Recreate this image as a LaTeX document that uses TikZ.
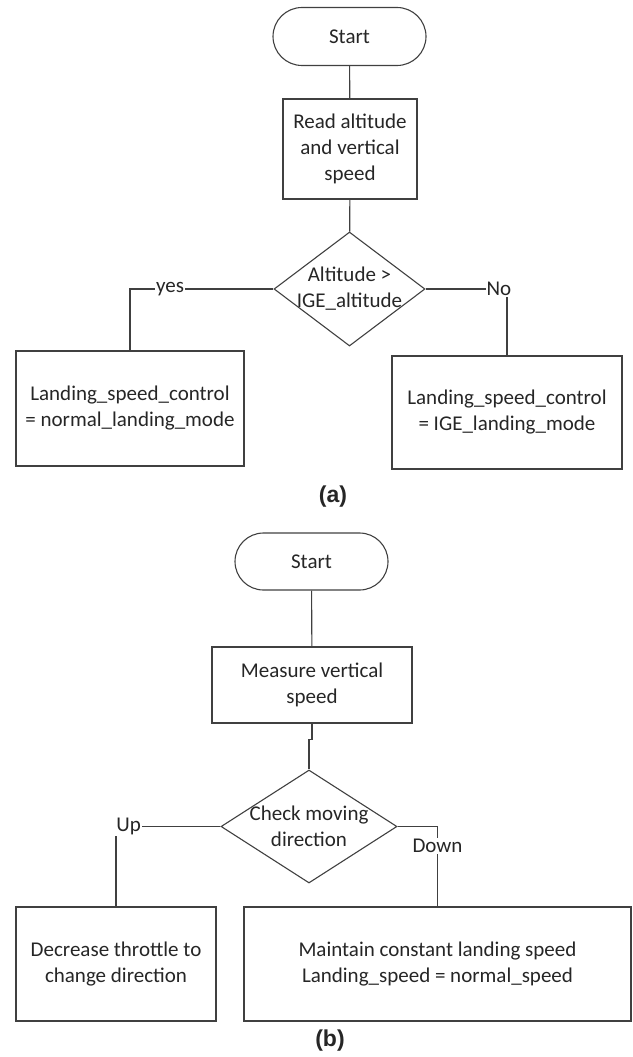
\documentclass[tikz,border=0pt]{standalone}
\usepackage{fontspec}
\setmainfont{Carlito}
\newfontfamily\capfont{Liberation Sans}
\usetikzlibrary{shapes.geometric,shapes.misc}
\begin{document}
\begin{tikzpicture}[x=1pt,y=-1pt,line width=1.1pt,color=black!75,
  every node/.style={font=\fontsize{21}{26}\selectfont,text=black!85},
  term/.style={draw,rounded rectangle,minimum width=153pt,minimum height=58pt,inner sep=0pt},
  proc/.style={draw,rectangle,align=center,inner sep=0pt},
  dec/.style={draw,diamond,inner sep=0pt},
  elbl/.style={fill=white,inner sep=1pt},
  sublbl/.style={font=\capfont\bfseries\fontsize{23}{26}\selectfont}]
\useasboundingbox (0,0) rectangle (632,1057);

% (a)
\node[term] (s1) at (349.5,36.5) {Start};
\node[proc,minimum width=134pt,minimum height=100pt] (r1) at (350,149) {Read altitude\\and vertical\\speed};
\node[dec,minimum width=151pt,minimum height=114pt,
  label={[align=center]center:Altitude >\\IGE\_altitude}] (q1) at (349.5,289) {};
\node[proc,minimum width=228pt,minimum height=115pt] (ya) at (130,408.5) {Landing\_speed\_control\\= normal\_landing\_mode};
\node[proc,minimum width=230pt,minimum height=113pt] (na) at (507,412.5) {Landing\_speed\_control\\= IGE\_landing\_mode};
\node[sublbl] (capa) at (333,497) {(a)};

\draw (s1) -- (r1);
\draw (r1) -- (q1);
\draw (q1.west) -| node[elbl,pos=0.36] {yes} (ya.north);
\draw (q1.east) -| node[elbl,pos=0.45] {No} (na.north);

% (b)
\node[term,minimum height=57pt] (s2) at (311.5,561.5) {Start};
\node[proc,minimum width=200pt,minimum height=76pt] (r2) at (312,685) {Measure vertical\\speed};
\node[dec,minimum width=176pt,minimum height=113pt,
  label={[align=center]center:Check moving\\direction}] (q2) at (309,826.5) {};
\node[proc,minimum width=200pt,minimum height=114pt] (ub) at (116,964) {Decrease throttle to\\change direction};
\node[proc,minimum width=387pt,minimum height=114pt] (db) at (437.5,964) {Maintain constant landing speed\\Landing\_speed = normal\_speed};
\node[sublbl] (capb) at (330,1041) {(b)};

\draw (s2) -- (r2);
\draw (r2.south) -- ++(0,16) -| (q2.north);
\draw (q2.west) -| node[elbl,pos=0.44] {Up} (ub.north);
\draw (q2.east) -| node[elbl,pos=0.62] {Down} (db.north);
\end{tikzpicture}
\end{document}
